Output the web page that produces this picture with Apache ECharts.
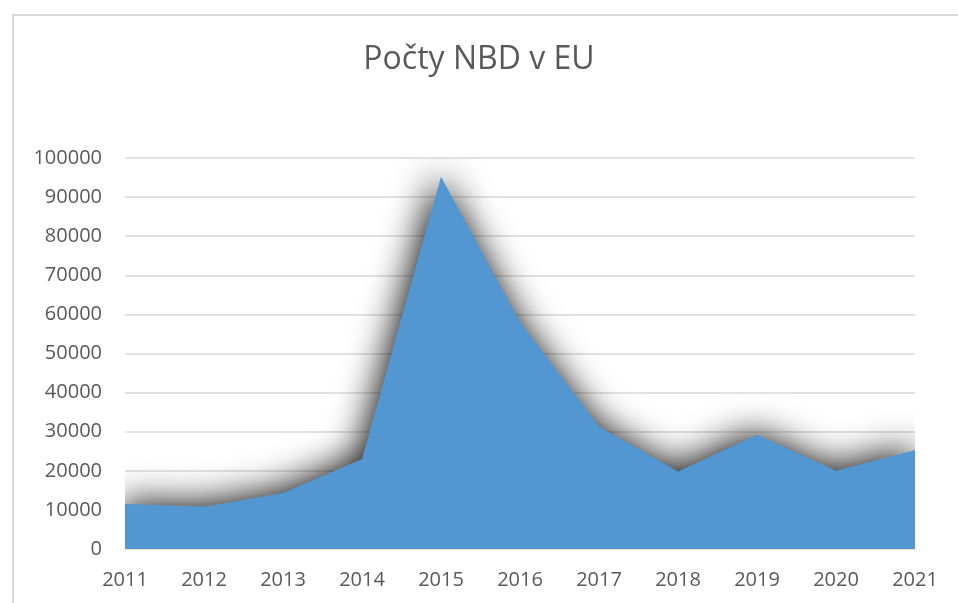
<!DOCTYPE html>
<html><head><meta charset="utf-8">
<script src="https://cdn.jsdelivr.net/npm/echarts@6/dist/echarts.min.js"></script>
<style>html,body{margin:0;padding:0;background:#fff}#frame{position:absolute;left:12px;top:14px;width:1000px;height:1000px;border-left:2px solid #d9d9d9;border-top:2px solid #d9d9d9;box-sizing:border-box}#c{position:absolute;left:0;top:0;width:958px;height:603px}</style>
</head><body>
<div id="frame"></div>
<div id="c"></div>
<script>
const years = ['2011','2012','2013','2014','2015','2016','2017','2018','2019','2020','2021'];
const counts = [11500, 10800, 14300, 23000, 95200, 58000, 31300, 19800, 29200, 20000, 25300];
const yTicks = {min: 0, max: 100000, interval: 10000};
const chart = echarts.init(document.getElementById('c'));
chart.setOption({
  animation: false,
  title: {text: 'Počty NBD v EU', left: 'center', top: 39,
    textStyle: {fontFamily: 'Open Sans', fontWeight: 'normal', fontSize: 32, color: '#595959'}},
  grid: {left: 125, right: 43, top: 158, bottom: 54, containLabel: false},
  xAxis: {type: 'category', data: years, boundaryGap: false,
    axisLine: {show: false}, axisTick: {show: false},
    axisLabel: {fontFamily: 'Open Sans', fontSize: 20, color: '#595959', margin: 21}},
  yAxis: {type: 'value', min: yTicks.min, max: yTicks.max, interval: yTicks.interval,
    axisLine: {show: false}, axisTick: {show: false},
    splitLine: {lineStyle: {color: '#d9d9d9', width: 1.5}},
    axisLabel: {fontFamily: 'Open Sans', fontSize: 20, color: '#595959', margin: 23,
      formatter: v => String(v)}},
  series: [{type: 'line', data: counts, symbol: 'none',
    lineStyle: {width: 0},
    areaStyle: {color: '#5296d2', opacity: 1, shadowBlur: 36, shadowOffsetX: -3, shadowOffsetY: -2,
      shadowColor: 'rgba(0,0,0,0.95)'}}]
});
</script>
</body></html>
